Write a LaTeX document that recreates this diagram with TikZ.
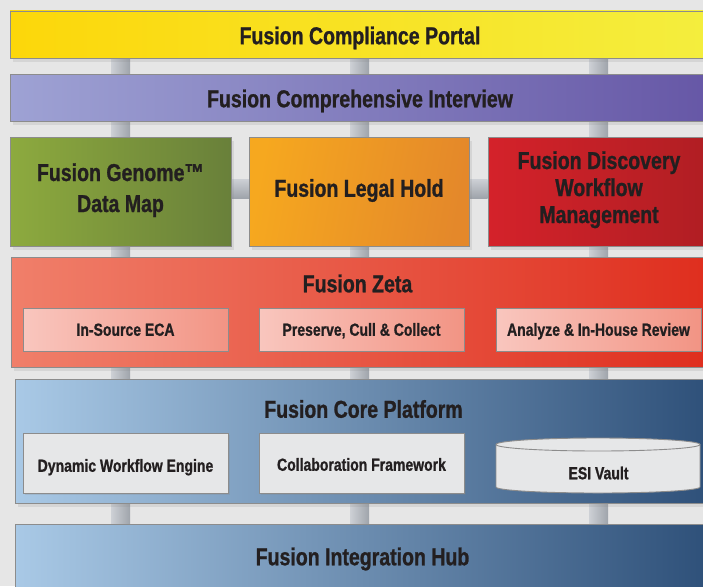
\documentclass[tikz,border=0pt]{standalone}
\usepackage{fontspec}
\setmainfont{Liberation Sans}[FakeStretch=0.8,FakeBold=1]
\usetikzlibrary{shadows,calc}
\definecolor{bgc}{HTML}{E6E6E6}
\definecolor{bordc}{HTML}{8C8C8C}
\definecolor{txt}{HTML}{231F20}
\definecolor{portalL}{HTML}{FCD70A}
\definecolor{portalR}{HTML}{F4EE3E}
\definecolor{interL}{HTML}{9EA2D4}
\definecolor{interR}{HTML}{6657A6}
\definecolor{genL}{HTML}{8DAA3E}
\definecolor{genR}{HTML}{69803A}
\definecolor{legL}{HTML}{F6A81F}
\definecolor{legR}{HTML}{E4882A}
\definecolor{discL}{HTML}{D4222A}
\definecolor{discR}{HTML}{B01E23}
\definecolor{zetaL}{HTML}{F07F6A}
\definecolor{zetaR}{HTML}{DF2E1E}
\definecolor{subL}{HTML}{F9C6BE}
\definecolor{subR}{HTML}{F29484}
\definecolor{coreL}{HTML}{A9C9E6}
\definecolor{coreR}{HTML}{2E5079}
\definecolor{coreBox}{HTML}{E6E7E8}
\definecolor{pilL}{HTML}{CDD0D5}
\definecolor{pilM}{HTML}{C2C6CB}
\definecolor{pilR}{HTML}{9FA4AB}
\pgfdeclarelayer{back}
\pgfdeclarelayer{mid}
\pgfsetlayers{back,mid,main}
\newcommand\lblbig{\fontsize{24.4}{28}\selectfont\bfseries}
\newcommand\lblsmall{\fontsize{17.5}{20}\selectfont\bfseries}
\begin{document}
\begin{tikzpicture}[x=1pt,y=-1pt,
  box/.style={draw=bordc, line width=0.9pt, inner sep=0pt, text=txt, font=\lblbig},
  shadowed/.style={drop shadow={shadow xshift=2.5pt, shadow yshift=-4pt, opacity=0.16}},
  smallshadow/.style={drop shadow={shadow xshift=1.5pt, shadow yshift=-1.5pt, opacity=0.2}},
  bigtxt/.style={text height=17.5pt, text depth=0pt},
  smalltxt/.style={text height=12.5pt, text depth=0pt},
  sub/.style={box, font=\lblsmall, shade, left color=subL, right color=subR, minimum width=205pt, minimum height=43pt, smalltxt},
  cbox/.style={box, font=\lblsmall, fill=coreBox, minimum width=205pt, minimum height=60pt, smallshadow},
  title/.style={inner sep=0pt, text=txt, font=\lblbig, bigtxt}
]
\useasboundingbox (0,0) rectangle (703,586);
\begin{pgfonlayer}{back}
\fill[bgc] (0,0) rectangle (703,586);
\end{pgfonlayer}
\clip (0,0) rectangle (703,586);

% top bars
\node[box, shadowed, shade, left color=portalL, right color=portalR,
      minimum width=700pt, minimum height=47pt, text height=19.5pt, text depth=0pt]
      (portal) at (360,34.5) {Fusion Compliance Portal};
\node[box, shadowed, shade, left color=interL, right color=interR,
      minimum width=700pt, minimum height=47pt, text height=19.5pt, text depth=0pt]
      (interview) at (360,97.5) {Fusion Comprehensive Interview};

% third row
\node[box, shadowed, shade, left color=genL, right color=genR,
      minimum width=221pt, minimum height=109pt, text height=0pt, text depth=21pt]
      (genome) at (120.5,191.5)
      {\vtop{\baselineskip=31pt\halign{\hfil#\hfil\cr Fusion Genome™\cr Data Map\cr}}};
\node[box, shadowed, shade, left color=legL, right color=legR, shading angle=80,
      minimum width=220pt, minimum height=109pt, text height=17.5pt, text depth=7pt]
      (legal) at (359,191.5) {Fusion Legal Hold};
\node[box, shadowed, shade, left color=discL, right color=discR,
      minimum width=222pt, minimum height=109pt, text height=0pt, text depth=45pt]
      (discovery) at (599,191.5)
      {\vtop{\baselineskip=27pt\halign{\hfil#\hfil\cr Fusion Discovery\cr Workflow\cr Management\cr}}};

% Zeta
\node[box, shadowed, shade, left color=zetaL, right color=zetaR,
      minimum width=699pt, minimum height=110pt] (zeta) at (360.5,312) {};
\node[title] (zetaTitle) at (357.5,283.5) {Fusion Zeta};
\node[sub] (insource) at (125.5,329.5) {In-Source ECA};
\node[sub] (preserve) at (361.5,329.5) {Preserve, Cull \& Collect};
\node[sub] (analyze) at (598.5,329.5) {Analyze \& In-House Review};

% Core platform
\node[box, shadowed, shade, left color=coreL, right color=coreR,
      minimum width=695pt, minimum height=124pt] (core) at (362.5,441) {};
\node[title] (coreTitle) at (363.5,409) {Fusion Core Platform};
\node[cbox, text height=17.5pt, text depth=0pt] (dynamic) at (125.5,463) {Dynamic Workflow Engine};
\node[cbox, text height=15.5pt, text depth=0pt] (collab) at (361.5,463) {Collaboration Framework};
\filldraw[fill=coreBox, draw=bordc, line width=0.9pt]
  (496,444.5) -- (496,487)
  arc[start angle=180, end angle=360, x radius=102pt, y radius=6pt]
  -- (700,444.5)
  arc[start angle=0, end angle=180, x radius=102pt, y radius=6.5pt] -- cycle;
\draw[bordc, line width=0.9pt] (700,444.5)
  arc[start angle=0, end angle=-180, x radius=102pt, y radius=6.5pt];
\node[inner sep=0pt, text=txt, font=\lblsmall, smalltxt] (vault) at (598.5,473) {ESI Vault};

% Integration hub
\node[box, shade, left color=coreL, right color=coreR,
      minimum width=695pt, minimum height=66pt, text height=16.5pt, text depth=0pt]
      (hub) at (362.5,557) {Fusion Integration Hub};

% connectors (pillars) behind the layers
\coordinate (p1) at (120.5,0);
\coordinate (p2) at (359.5,0);
\coordinate (p3) at (598.5,0);
\coordinate (hy) at (0,188.5);
\begin{pgfonlayer}{mid}
\foreach \p in {p1,p2,p3}{
  \shade[left color=pilL, middle color=pilM, right color=pilR]
    ($(portal.south -| \p)+(-9.5,0)$) rectangle ($(hub.north -| \p)+(9.5,0)$);
}
\shade[top color=pilL, bottom color=pilR]
  ($(genome.east |- hy)+(0,-9.5)$) rectangle ($(discovery.west |- hy)+(0,9.5)$);
\end{pgfonlayer}
\end{tikzpicture}
\end{document}
